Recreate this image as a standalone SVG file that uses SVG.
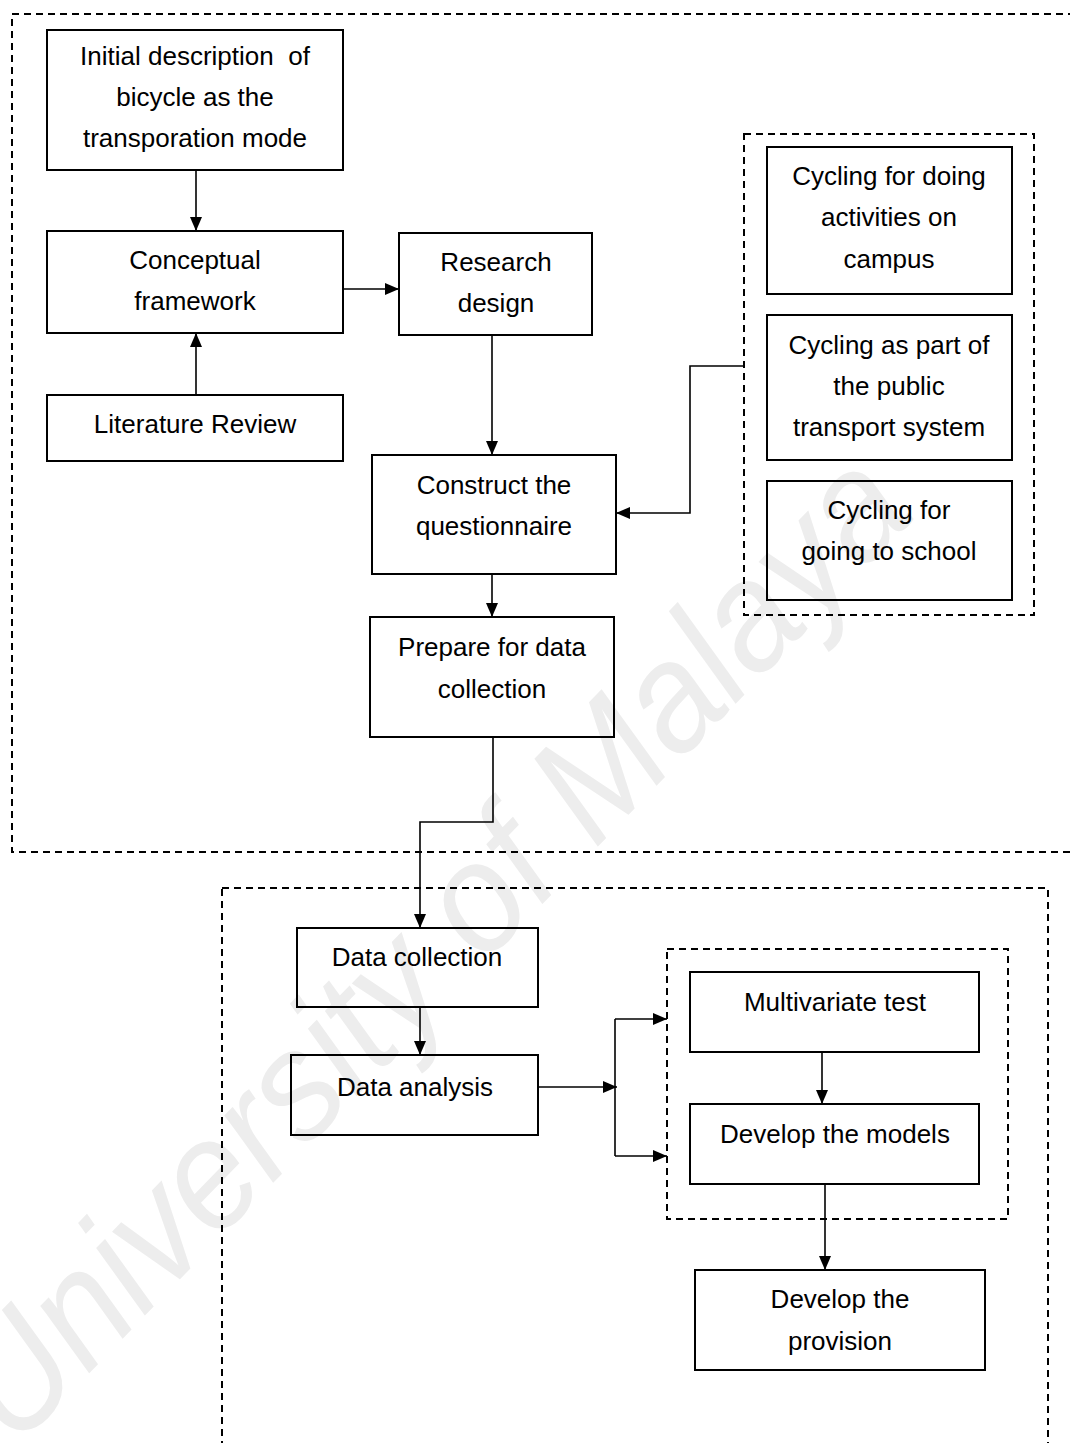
<svg xmlns="http://www.w3.org/2000/svg" width="1070" height="1443" viewBox="0 0 1070 1443">
<style>
.box{fill:none;stroke:#000;stroke-width:2}
.grp{fill:none;stroke:#000;stroke-width:2;stroke-dasharray:7 5}
.con{fill:none;stroke:#000;stroke-width:1.6}
.t{font-family:"Liberation Sans",Arial,sans-serif;font-size:26px;fill:#000;text-anchor:middle}
.wm{font-family:"Liberation Sans",Arial,sans-serif;font-size:155px;font-style:italic;fill:#ededed}
</style>
<defs>
<marker id="ah" viewBox="0 0 14 12" refX="14" refY="6" markerWidth="14" markerHeight="12" markerUnits="userSpaceOnUse" orient="auto">
<path d="M0,0 L14,6 L0,12 Z" fill="#000"/>
</marker>
</defs>
<rect width="1070" height="1443" fill="#fff"/>
<text class="wm" transform="translate(15,1450) rotate(-46)" textLength="1300" lengthAdjust="spacingAndGlyphs">University of Malaya</text>

<g id="groups">
<rect id="group-top" class="grp" x="12" y="14" width="1070" height="838"/>
<rect id="group-cycling" class="grp" x="744" y="134" width="290" height="481"/>
<rect id="group-bottom" class="grp" x="222" y="888" width="826" height="570"/>
<rect id="group-analysis" class="grp" x="667" y="949" width="341" height="270"/>
</g>

<g id="n-initial"><rect class="box" x="47" y="30" width="296" height="140"/>
<text class="t" x="195" y="65" xml:space="preserve">Initial description  of</text><text class="t" x="195" y="106">bicycle as the</text><text class="t" x="195" y="147">transporation mode</text></g>
<g id="n-conceptual"><rect class="box" x="47" y="231" width="296" height="102"/>
<text class="t" x="195" y="269">Conceptual</text><text class="t" x="195" y="310">framework</text></g>
<g id="n-literature"><rect class="box" x="47" y="395" width="296" height="66"/>
<text class="t" x="195" y="433">Literature Review</text></g>
<g id="n-research"><rect class="box" x="399" y="233" width="193" height="102"/>
<text class="t" x="496" y="271">Research</text><text class="t" x="496" y="312">design</text></g>
<g id="n-construct"><rect class="box" x="372" y="455" width="244" height="119"/>
<text class="t" x="494" y="494">Construct the</text><text class="t" x="494" y="535">questionnaire</text></g>
<g id="n-prepare"><rect class="box" x="370" y="617" width="244" height="120"/>
<text class="t" x="492" y="656">Prepare for data</text><text class="t" x="492" y="698">collection</text></g>
<g id="n-cyc1"><rect class="box" x="767" y="147" width="245" height="147"/>
<text class="t" x="889" y="185">Cycling for doing</text><text class="t" x="889" y="226">activities on</text><text class="t" x="889" y="268">campus</text></g>
<g id="n-cyc2"><rect class="box" x="767" y="315" width="245" height="145"/>
<text class="t" x="889" y="354">Cycling as part of</text><text class="t" x="889" y="395">the public</text><text class="t" x="889" y="436">transport system</text></g>
<g id="n-cyc3"><rect class="box" x="767" y="481" width="245" height="119"/>
<text class="t" x="889" y="519">Cycling for</text><text class="t" x="889" y="560">going to school</text></g>
<g id="n-datacol"><rect class="box" x="297" y="928" width="241" height="79"/>
<text class="t" x="417" y="966">Data collection</text></g>
<g id="n-dataana"><rect class="box" x="291" y="1055" width="247" height="80"/>
<text class="t" x="415" y="1096">Data analysis</text></g>
<g id="n-multi"><rect class="box" x="690" y="972" width="289" height="80"/>
<text class="t" x="835" y="1011">Multivariate test</text></g>
<g id="n-models"><rect class="box" x="690" y="1104" width="289" height="80"/>
<text class="t" x="835" y="1143">Develop the models</text></g>
<g id="n-provision"><rect class="box" x="695" y="1270" width="290" height="100"/>
<text class="t" x="840" y="1308">Develop the</text><text class="t" x="840" y="1350">provision</text></g>

<g id="connectors">
<path class="con" d="M196,170 V231" marker-end="url(#ah)"/>
<path class="con" d="M196,395 V333" marker-end="url(#ah)"/>
<path class="con" d="M343,289 H399" marker-end="url(#ah)"/>
<path class="con" d="M492,335 V455" marker-end="url(#ah)"/>
<path class="con" d="M744,366 H690 V513 H616" marker-end="url(#ah)"/>
<path class="con" d="M492,574 V617" marker-end="url(#ah)"/>
<path class="con" d="M493,737 V822 H420 V928" marker-end="url(#ah)"/>
<path class="con" d="M420,1007 V1055" marker-end="url(#ah)"/>
<path class="con" d="M538,1087 H617" marker-end="url(#ah)"/>
<path class="con" d="M615,1019 V1156"/>
<path class="con" d="M615,1019 H667" marker-end="url(#ah)"/>
<path class="con" d="M615,1156 H667" marker-end="url(#ah)"/>
<path class="con" d="M822,1052 V1104" marker-end="url(#ah)"/>
<path class="con" d="M825,1184 V1270" marker-end="url(#ah)"/>
</g>
</svg>
